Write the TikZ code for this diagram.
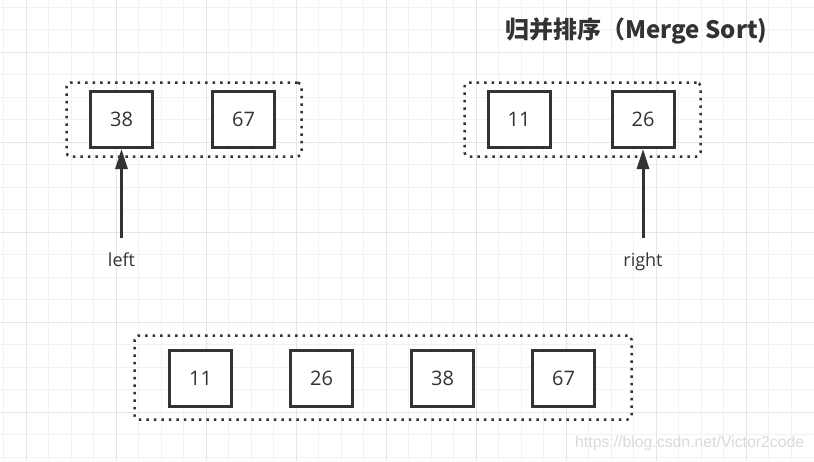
\documentclass[tikz,border=0pt]{standalone}
\usepackage{fontspec}
\setmainfont{Open Sans}
\newfontfamily\cjk{Noto Sans CJK SC}
\newfontfamily\wmfont{Liberation Sans}
\usepackage{tikz}
\usetikzlibrary{arrows.meta,positioning}
\definecolor{ink}{HTML}{333333}
\definecolor{gridminor}{HTML}{F2F2F2}
\definecolor{gridmajor}{HTML}{E5E5E5}
\definecolor{wmark}{HTML}{DADADA}

\begin{document}
\begin{tikzpicture}[x=1pt,y=-1pt,
    cell/.style={draw=ink,line width=3pt,fill=white,minimum width=62pt,minimum height=56pt,inner sep=0pt,font=\fontsize{20}{24}\selectfont,text=ink},
    group/.style={draw=ink,line width=2.5pt,dash pattern=on 2.5pt off 5pt,rounded corners=4pt,inner sep=0pt},
    ptr/.style={-{Triangle[length=20pt,width=12pt]},line width=3pt,draw=ink},
    lbl/.style={font=\fontsize{18}{22}\selectfont,text=ink,inner sep=0pt}]
  \useasboundingbox[fill=white] (0,0) rectangle (814,461);
  % grid
  \foreach \k in {0,...,35} \draw[gridminor,line width=1pt] ({3.5+22.5*\k},0) -- ({3.5+22.5*\k},461);
  \foreach \k in {0,...,20} \draw[gridminor,line width=1pt] (0,{7+22.5*\k}) -- (814,{7+22.5*\k});
  \foreach \k in {0,...,8} \draw[gridmajor,line width=1pt] ({26+90*\k},0) -- ({26+90*\k},461);
  \foreach \k in {0,...,4} \draw[gridmajor,line width=1pt] (0,{52+90*\k}) -- (814,{52+90*\k});
  \node[anchor=west,inner sep=0pt,text=ink,font=\cjk\bfseries\fontsize{24}{28}\selectfont] (title) at (505,31) {归并排序（Merge Sort)};
  \node[group,minimum width=235pt,minimum height=74pt] (lgrp) at (184,119.5) {};
  \node[group,minimum width=236pt,minimum height=74pt] (rgrp) at (582.5,119.5) {};
  \node[group,minimum width=497pt,minimum height=84pt] (mgrp) at (383,377.5) {};
  \node[cell] (l38) at (121.5,119.5) {38};
  \node[cell,right=57pt of l38] (l67) {67};
  \node[cell] (r11) at (519,119.5) {11};
  \node[cell,right=59pt of r11] (r26) {26};
  \node[cell] (m11) at (200.5,378) {11};
  \node[cell,right=56pt of m11] (m26) {26};
  \node[cell,right=56pt of m26] (m38) {38};
  \node[cell,right=56pt of m38] (m67) {67};
  \coordinate (lfoot) at (121.5,238);
  \coordinate (rfoot) at (643,238);
  \draw[ptr] (lfoot) -- (l38);
  \draw[ptr] (rfoot) -- (r26);
  \node[lbl,below=15pt of lfoot] (lname) {left};
  \node[lbl,below=15pt of rfoot] (rname) {right};
  \node[anchor=west,inner sep=0pt,text=wmark,font=\wmfont\fontsize{15.8}{19}\selectfont] (wm) at (575,443) {https://blog.csdn.net/Victor2code};
\end{tikzpicture}
\end{document}
